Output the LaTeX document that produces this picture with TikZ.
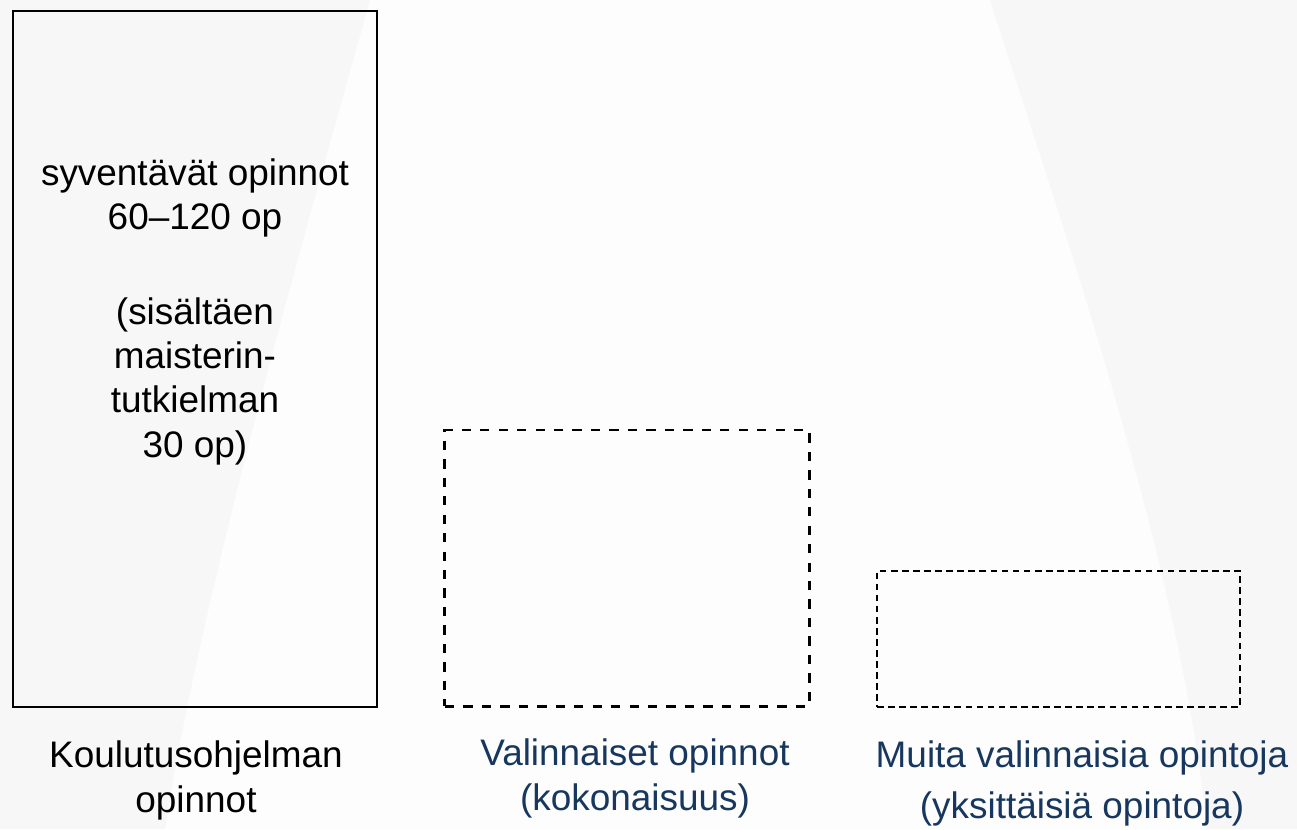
\documentclass[tikz,border=0pt]{standalone}
\usepackage{fontspec}
\setmainfont{Liberation Sans}
\definecolor{navy}{HTML}{17375E}
\definecolor{texture}{HTML}{F7F7F7}
\definecolor{bg}{HTML}{FDFDFD}
\tikzset{
  txt/.style={font=\fontsize{10.5}{12.6}\selectfont, align=center, inner sep=0pt, anchor=base},
  solidbox/.style={draw=black, line width=0.6pt, inner sep=0pt},
  bigdash/.style={draw=black, line width=0.8pt, dash pattern=on 2.65pt off 2.6pt, inner sep=0pt},
  smalldash/.style={draw=black, line width=0.5pt, dash pattern=on 1.9pt off 1.25pt, inner sep=0pt}
}
\begin{document}
\begin{tikzpicture}[x=0.01cm,y=-0.01cm]
\useasboundingbox (0,0) rectangle (1297,829);
\fill[bg] (0,0) rectangle (1297,829);
% faint background texture
\fill[texture] (0,0) -- (370,0) .. controls (300,250) and (200,600) .. (165,829) -- (0,829) -- cycle;
\fill[texture] (990,0) .. controls (1060,220) and (1180,560) .. (1207,829) -- (1297,829) -- (1297,0) -- cycle;
% boxes
\node[solidbox, minimum width=3.64cm, minimum height=6.96cm] (core) at (195,359) {};
\node[bigdash, minimum width=3.64cm, minimum height=2.76cm] (opt) at (627,568) {};
\node[smalldash, minimum width=3.63cm, minimum height=1.36cm] (other) at (1058.5,639) {};
% text in box (base anchor = baseline of the last line)
\coordinate (coretxt) at (195,457);
\node[txt] (coretext) at (coretxt) {syventävät opinnot\\60–120 op\\[14.3pt](sisältäen\\maisterin-\\tutkielman\\30 op)};
% labels
\coordinate (l1) at (196,812);
\coordinate (l2) at (635,810);
\coordinate (l3) at (1082,818);
\node[txt] (corelabel) at (l1) {Koulutusohjelman\\opinnot};
\node[txt, text=navy] (optlabel) at (l2) {Valinnaiset opinnot\\(kokonaisuus)};
\node[txt, text=navy] (otherlabel) at (l3) {Muita valinnaisia opintoja\\[1.9pt](yksittäisiä opintoja)};
\end{tikzpicture}
\end{document}
